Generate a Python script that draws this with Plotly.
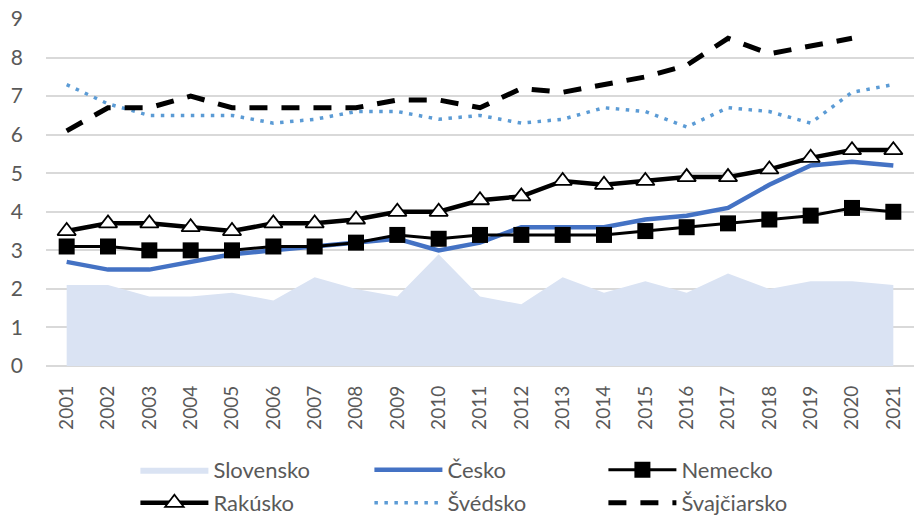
import plotly.graph_objects as go

years = list(range(2001, 2022))
year_labels = [str(y) for y in years]

slovensko = [2.1, 2.1, 1.8, 1.8, 1.9, 1.7, 2.3, 2.0, 1.8, 2.9, 1.8, 1.6, 2.3, 1.9, 2.2, 1.9, 2.4, 2.0, 2.2, 2.2, 2.1]
cesko = [2.7, 2.5, 2.5, 2.7, 2.9, 3.0, 3.1, 3.2, 3.3, 3.0, 3.2, 3.6, 3.6, 3.6, 3.8, 3.9, 4.1, 4.7, 5.2, 5.3, 5.2]
nemecko = [3.1, 3.1, 3.0, 3.0, 3.0, 3.1, 3.1, 3.2, 3.4, 3.3, 3.4, 3.4, 3.4, 3.4, 3.5, 3.6, 3.7, 3.8, 3.9, 4.1, 4.0]
rakusko = [3.5, 3.7, 3.7, 3.6, 3.5, 3.7, 3.7, 3.8, 4.0, 4.0, 4.3, 4.4, 4.8, 4.7, 4.8, 4.9, 4.9, 5.1, 5.4, 5.6, 5.6]
svedsko = [7.3, 6.8, 6.5, 6.5, 6.5, 6.3, 6.4, 6.6, 6.6, 6.4, 6.5, 6.3, 6.4, 6.7, 6.6, 6.2, 6.7, 6.6, 6.3, 7.1, 7.3]
svajciarsko = [6.1, 6.7, 6.7, 7.0, 6.7, 6.7, 6.7, 6.7, 6.9, 6.9, 6.7, 7.2, 7.1, 7.3, 7.5, 7.8, 8.5, 8.1, 8.3, 8.5, None]
y_ticks = list(range(0, 10))

FONT = "Lato, Liberation Sans, sans-serif"
GREY = "#595959"

fig = go.Figure()
fig.add_trace(go.Scatter(x=years, y=slovensko, name="Slovensko", mode="lines",
                         line=dict(width=0, color="#DAE3F3"), fill="tozeroy",
                         fillcolor="#DAE3F3", legend="legend"))
fig.add_trace(go.Scatter(x=years, y=cesko, name="Česko", mode="lines",
                         line=dict(width=4.5, color="#4472C4"), legend="legend"))
fig.add_trace(go.Scatter(x=years, y=nemecko, name="Nemecko", mode="lines+markers",
                         line=dict(width=3, color="black"),
                         marker=dict(symbol="square", size=16, color="black"), legend="legend"))
fig.add_trace(go.Scatter(x=years, y=rakusko, name="Rakúsko", mode="lines+markers",
                         line=dict(width=4.5, color="black"),
                         marker=dict(symbol="triangle-up", size=16, color="white",
                                     line=dict(color="black", width=1.8)), legend="legend2"))
fig.add_trace(go.Scatter(x=years, y=svedsko, name="Švédsko", mode="lines",
                         line=dict(width=3.5, color="#5B9BD5", dash="3.5px,6.5px"), legend="legend2"))
fig.add_trace(go.Scatter(x=years, y=svajciarsko, name="Švajčiarsko", mode="lines",
                         line=dict(width=5, color="black", dash="18px,14px"), legend="legend2"))

leg_common = dict(orientation="h", xanchor="left", yanchor="middle",
                  xref="paper", yref="container",
                  font=dict(family=FONT, size=22, color=GREY),
                  itemwidth=68,
                  entrywidth=151, entrywidthmode="pixels",
                  bgcolor="rgba(0,0,0,0)", itemclick=False)

fig.update_layout(
    width=914, height=515,
    margin=dict(l=46, r=0, t=19, b=149),
    paper_bgcolor="white", plot_bgcolor="white",
    font=dict(family=FONT, color=GREY),
    legend=dict(x=0.103, y=0.0874, **leg_common),
    legend2=dict(x=0.103, y=0.0233, **leg_common),
    xaxis=dict(range=[2000.5, 2021.5], tickvals=years, ticktext=year_labels,
               tickangle=-90, tickfont=dict(family=FONT, size=19, color=GREY),
               showgrid=False, zeroline=False, showline=False, ticks="",
               ticklabelstandoff=15, automargin=False),
    yaxis=dict(range=[0, 9.001], tickvals=y_ticks,
               tickfont=dict(family=FONT, size=21, color=GREY),
               ticklabeloverflow="allow",
               showgrid=True, gridcolor="#D9D9D9", gridwidth=1.5,
               zeroline=True, zerolinecolor="#D9D9D9", zerolinewidth=1.5,
               showline=False, ticks="", ticklabelstandoff=22, automargin=False),
)

# remove the default 8px page margin so the figure fills the window exactly
fig.write_html("out.html", config={"displayModeBar": False},
               post_script="document.body.style.margin='0';")
